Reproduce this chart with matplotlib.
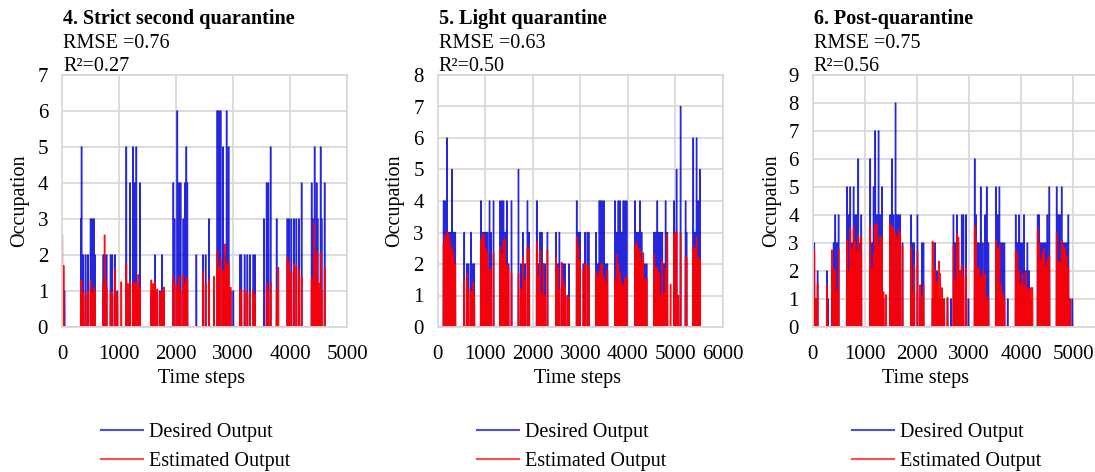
import matplotlib
matplotlib.use("Agg")
import matplotlib.pyplot as plt
import numpy as np

plt.rcParams['font.family'] = ['Liberation Serif', 'DejaVu Serif']

W, H = 1095, 472

# panel titles and scores
titles = ["4. Strict second quarantine", "5. Light quarantine", "6. Post-quarantine"]
rmse = ["0.76", "0.63", "0.75"]
r2 = ["0.27", "0.50", "0.56"]
y_max = [7, 8, 9]
x_max = [5000, 6000, 6000]
x_tick_max = [5000, 6000, 5000]
n_steps = [4620, 5530, 5010]

# 4. Strict second quarantine: pulse start, desired value, estimated value
t4 = [0, 25, 40, 328, 339, 369, 410, 450, 497, 527, 556, 573, 720, 743, 760, 778,
      848, 878, 924, 965, 1035, 1123, 1152, 1188, 1240, 1270, 1299, 1334, 1363,
      1562, 1597, 1626, 1667, 1714, 1749, 1784, 1948, 1971, 2018, 2048, 2077, 2124,
      2153, 2176, 2194, 2352, 2469, 2516, 2574, 2662, 2720, 2750, 2779, 2820, 2855,
      2884, 2919, 2954, 3001, 3118, 3141, 3200, 3247, 3294, 3352, 3381, 3539, 3586,
      3615, 3656, 3762, 3791, 3949, 3978, 4019, 4066, 4107, 4154, 4200, 4376, 4393,
      4417, 4428, 4464, 4481, 4516, 4534, 4551, 4604]
d4 = [0, 0, 1, 3, 5, 2, 2, 2, 3, 3, 3, 2, 2, 2, 1, 2,
      2, 2, 2, 1, 0, 5, 1, 4, 5, 4, 5, 1, 4,
      1, 1, 2, 1, 1, 2, 1, 4, 3, 6, 4, 4, 3,
      4, 5, 4, 2, 2, 2, 3, 1, 6, 6, 6, 5, 2,
      6, 5, 1, 1, 2, 2, 2, 2, 2, 2, 2, 3, 4,
      4, 5, 3, 0, 3, 3, 3, 3, 3, 3, 4, 4, 3,
      0, 5, 4, 3, 1, 5, 3, 4]
e4 = [2.55, 1.7, 0, 1.3, 1.25, 0.95, 0.9, 1.0, 1.3, 0.95, 1.1, 1.0, 1.2, 2.55, 1.4, 1.1,
      0.95, 1.0, 1.6, 0.9, 1.25, 1.75, 1.2, 1.25, 1.2, 1.25, 1.2, 1.45, 1.1,
      1.3, 1.2, 1.25, 1.05, 0.95, 1.0, 1.1, 1.4, 1.2, 1.15, 1.4, 1.0, 1.45,
      1.2, 1.3, 1.35, 0, 1.55, 1.2, 1.3, 1.4, 2.1, 1.65, 1.9, 1.55, 2.3,
      1.75, 1.8, 1.1, 0, 1.0, 1.05, 1.0, 0.95, 1.0, 1.0, 0.9, 0, 1.2,
      1.0, 1.25, 1.0, 1.65, 1.95, 1.8, 1.5, 1.75, 1.7, 1.6, 1.4, 1.35, 1.3,
      2.9, 2.0, 2.1, 1.25, 1.2, 2.05, 1.0, 1.65]

# 5. Light quarantine
t5 = [119, 147, 189, 224, 259, 294, 329, 364, 553, 609, 644, 693, 735, 763, 903, 938,
      973, 1008, 1043, 1085, 1113, 1169, 1309, 1344, 1379, 1414, 1449, 1484, 1547,
      1694, 1743, 1785, 1834, 1883, 1918, 2079, 2114, 2149, 2184, 2219, 2254, 2303,
      2485, 2520, 2555, 2604, 2639, 2674, 2723, 2758, 2919, 2954, 2989, 3059, 3094,
      3143, 3171, 3325, 3360, 3395, 3423, 3458, 3493, 3528, 3563, 3724, 3759, 3794,
      3829, 3864, 3899, 3934, 3969, 4144, 4179, 4214, 4249, 4284, 4319, 4354, 4389,
      4543, 4578, 4613, 4648, 4683, 4718, 4753, 4788, 4823, 4893, 4963, 4991, 5019,
      5054, 5103, 5208, 5229, 5369, 5404, 5439, 5474, 5509]
d5 = [4, 4, 6, 3, 3, 5, 3, 3, 3, 2, 2, 3, 2, 2, 4, 3,
      3, 3, 3, 4, 3, 4, 4, 4, 4, 3, 4, 2, 4,
      5, 2, 3, 2, 4, 3, 4, 2, 3, 3, 2, 2, 3,
      3, 2, 3, 2, 2, 2, 1, 2, 4, 3, 3, 2, 3,
      3, 3, 3, 2, 4, 4, 4, 4, 2, 2, 4, 3, 4,
      4, 3, 4, 4, 4, 4, 3, 3, 4, 3, 2, 2, 2,
      3, 3, 4, 3, 3, 3, 2, 4, 3, 0, 4, 3, 5,
      1, 7, 4, 3, 6, 3, 6, 4, 5]
e5 = [2.65, 2.9, 3.0, 2.95, 2.7, 2.5, 2.3, 2.0, 1.5, 1.7, 1.2, 1.15, 1.4, 1.0, 2.75, 2.95,
      2.9, 2.5, 2.35, 1.8, 1.85, 2.35, 2.55, 2.3, 2.75, 2.8, 2.0, 1.9, 1.7,
      1.7, 1.2, 2.2, 1.5, 2.55, 2.5, 2.7, 1.6, 2.45, 1.05, 2.0, 1.0, 2.45,
      2.2, 1.9, 1.2, 2.05, 1.5, 1.3, 0.95, 0.95, 2.85, 2.55, 2.1, 1.8, 2.0,
      2.0, 1.9, 1.75, 1.6, 1.75, 2.0, 2.0, 1.6, 1.4, 1.8, 1.5, 2.3, 2.0,
      1.7, 1.4, 1.3, 1.55, 1.6, 2.6, 2.7, 2.5, 2.45, 2.1, 2.35, 1.5, 1.55,
      2.3, 1.9, 1.85, 1.7, 1.0, 2.1, 1.1, 1.85, 2.9, 1.35, 2.95, 3.0, 3.0,
      1.0, 2.95, 2.25, 2.2, 2.55, 2.5, 2.85, 2.2, 2.15]

# 6. Post-quarantine
t6 = [10, 26, 58, 89, 268, 288, 364, 396, 428, 460, 492, 652, 684, 716, 748, 780,
      812, 844, 869, 907, 927, 1099, 1131, 1163, 1195, 1227, 1259, 1291, 1323, 1355,
      1399, 1482, 1514, 1546, 1585, 1610, 1642, 1674, 1719, 1885, 1917, 1943, 2006,
      2058, 2090, 2122, 2294, 2313, 2345, 2377, 2422, 2441, 2473, 2518, 2582, 2652,
      2697, 2729, 2761, 2793, 2824, 2856, 2888, 2939, 2984, 3105, 3131, 3157, 3182,
      3221, 3259, 3304, 3336, 3368, 3515, 3547, 3579, 3611, 3643, 3675, 3738, 3892,
      3924, 3956, 3988, 4020, 4052, 4084, 4116, 4148, 4180, 4212, 4313, 4339, 4371,
      4403, 4435, 4467, 4499, 4537, 4678, 4710, 4742, 4774, 4806, 4838, 4870, 4902,
      4934, 4978]
d6 = [0, 3, 1, 2, 2, 1, 2, 3, 4, 3, 4, 5, 4, 5, 3, 5,
      4, 4, 6, 3, 4, 6, 3, 5, 7, 4, 7, 4, 5, 1,
      0, 4, 6, 4, 8, 4, 4, 4, 3, 4, 3, 3, 4,
      1, 3, 3, 1, 1, 3, 2, 1, 1, 1, 1, 1, 1,
      4, 3, 4, 3, 2, 4, 4, 4, 1, 6, 4, 3, 3,
      5, 3, 4, 5, 3, 5, 4, 5, 3, 3, 3, 1, 4,
      3, 4, 3, 3, 4, 2, 3, 2, 1, 0, 4, 4, 3,
      3, 3, 3, 4, 5, 5, 4, 4, 5, 3, 3, 3, 4,
      1, 1]
e6 = [1.8, 2.75, 1.0, 1.55, 1.5, 0, 2.75, 2.1, 2.0, 1.3, 2.8, 3.1, 2.0, 3.5, 2.8, 3.6,
      3.05, 2.75, 3.25, 2.7, 3.25, 3.6, 2.1, 2.6, 3.65, 3.7, 2.9, 3.25, 3.2, 1.25,
      1.15, 3.7, 3.6, 3.5, 3.35, 3.2, 3.45, 3.35, 2.9, 2.85, 1.3, 2.2, 2.7,
      1.5, 1.1, 1.5, 3.05, 3.0, 2.05, 1.6, 2.35, 1.9, 1.4, 1.0, 1.05, 0,
      2.9, 1.7, 3.35, 3.2, 2.0, 2.25, 1.8, 2.1, 0, 3.6, 3.2, 2.1, 2.1,
      1.8, 2.0, 1.9, 1.1, 1.0, 3.1, 2.8, 2.9, 1.5, 1.2, 1.0, 0, 2.75,
      2.6, 2.0, 1.55, 1.9, 1.5, 1.95, 1.35, 1.35, 1.4, 1.4, 3.5, 3.0, 2.4,
      2.6, 2.8, 2.15, 2.4, 2.55, 3.35, 2.35, 2.3, 3.1, 2.9, 2.8, 2.55, 2.1,
      1.0, 0]

event_times = [t4, t5, t6]
desired = [d4, d5, d6]
estimated = [e4, e5, e6]

# pixel layout of the three plot areas (left, width)
ax_left = [62, 437.7, 812.7]
ax_width = [285, 285.3, 312.6]
ax_top, ax_bottom = 75, 327
ylab_x = [20, 395, 772]
xlab_x = [201, 577, 925]
leg_x = [101, 477, 852]

blue = '#0000d8'
red = '#ff0000'
grid_col = '#d9d9d9'


def pulse_series(times, values, n, width):
    """Series of zeros with a short pulse of the given value at every event"""
    y = np.zeros(n)
    for t, v in zip(times, values):
        y[t:t + width] = v
    return y


fig = plt.figure(figsize=(W / 100, H / 100), dpi=100)

for i in range(3):
    ax = fig.add_axes([ax_left[i] / W, 1 - ax_bottom / H,
                       ax_width[i] / W, (ax_bottom - ax_top) / H])
    steps = np.arange(n_steps[i])
    y_des = pulse_series(event_times[i], desired[i], n_steps[i], 9)
    y_est = pulse_series(event_times[i], estimated[i], n_steps[i], 9)
    ax.plot(steps, y_des, color=blue, lw=1.0, alpha=0.85, label='Desired Output')
    ax.plot(steps, y_est, color=red, lw=1.0, alpha=0.95, label='Estimated Output')

    ax.set_xlim(0, x_max[i])
    ax.set_ylim(0, y_max[i])
    ax.set_xticks(np.arange(0, x_tick_max[i] + 1, 1000))
    ax.set_yticks(np.arange(0, y_max[i] + 1, 1))
    ax.grid(True, color=grid_col, lw=1.3)
    ax.set_axisbelow(True)
    for s in ax.spines.values():
        s.set_color(grid_col)
        s.set_linewidth(1.3)
    ax.tick_params(length=0, labelsize=15, pad=10)
    ax.tick_params(axis='x', pad=13)

    fig.text(ax_left[i] / W + 0.001, 1 - 24 / H, titles[i], fontsize=14.5,
             fontweight='bold', va='baseline')
    fig.text(ax_left[i] / W + 0.001, 1 - 48 / H, "RMSE =" + rmse[i], fontsize=14.5,
             va='baseline')
    fig.text(ax_left[i] / W + 0.001, 1 - 71 / H, "R²=" + r2[i], fontsize=14.5,
             va='baseline')
    fig.text(ylab_x[i] / W, 1 - 201 / H, "Occupation", fontsize=14.5,
             rotation=90, ha='center', va='center')
    fig.text(xlab_x[i] / W, 1 - 379 / H, "Time steps", fontsize=14.5,
             ha='center', va='center')

    leg = ax.legend(loc='center left', bbox_to_anchor=(leg_x[i] / W, 1 - 447 / H),
                    bbox_transform=fig.transFigure, frameon=False, fontsize=14.5,
                    handlelength=2.1, handletextpad=0.3, labelspacing=0.45,
                    borderpad=0, borderaxespad=0)
    for line in leg.get_lines():
        line.set_linewidth(1.5)
        line.set_alpha(0.7)

fig.savefig("out.png", dpi=100)
